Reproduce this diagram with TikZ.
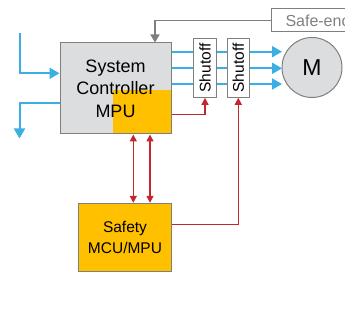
\documentclass[tikz,border=0pt]{standalone}
\usepackage{fontspec}
\setmainfont{Liberation Sans}
\usetikzlibrary{arrows.meta}
\definecolor{boxgray}{HTML}{DCDDDE}
\definecolor{orng}{HTML}{FFC000}
\definecolor{blu}{HTML}{3BAEE3}
\definecolor{rd}{HTML}{C1272D}
\definecolor{edge}{HTML}{7F7F7F}
\begin{document}
\begin{tikzpicture}[x=1pt,y=-1pt,
  bluline/.style={draw=blu,line width=2pt,-{Triangle[length=10pt,width=11pt]}},
  redline/.style={draw=rd,line width=1.5pt,-{Triangle[length=7pt,width=7pt]}},
  redboth/.style={draw=rd,line width=1.5pt,{Triangle[length=7pt,width=7pt]}-{Triangle[length=7pt,width=7pt]}},
  grayline/.style={draw=edge,line width=1.5pt,-{Triangle[length=8pt,width=9pt]}},
  shutbox/.style={draw=edge,line width=1pt,fill=white,minimum height=58.6pt,inner sep=0pt,
     font=\fontsize{15.5pt}{17pt}\selectfont},
]
\useasboundingbox (0,0) rectangle (345,320);
\clip (0,0) rectangle (345,320);
% coordinates
\coordinate (in1) at (19.5,32.7);
\coordinate (inY) at (0,73.3);
\coordinate (outY) at (0,103.3);
\coordinate (out1) at (19.5,138.5);
\coordinate (b1) at (0,51.7);
\coordinate (b2) at (0,68.3);
\coordinate (b3) at (0,84);
\coordinate (e1) at (282,51.7);
\coordinate (e2) at (282,68.3);
\coordinate (e3) at (282,84);
\coordinate (rY) at (0,114.3);
\coordinate (sY) at (0,224.3);
\coordinate (dA) at (133.3,0);
\coordinate (dB) at (150,0);
\coordinate (gX) at (155,0);
% system controller background
\fill[boxgray] (60,43) rectangle (171,134);
\fill[orng] (113,90) rectangle (171,134);
\node (sc) [draw=edge,line width=1pt,minimum width=111pt,minimum height=91pt,inner sep=0pt,
  align=center,font=\fontsize{18pt}{22.5pt}\selectfont] at (115.5,88.5)
  {System\\Controller\\MPU};
% safety
\node (saf) [draw=edge,line width=1pt,fill=orng,minimum width=93.4pt,minimum height=68.4pt,inner sep=0pt,
  align=center,font=\fontsize{15.5pt}{21.6pt}\selectfont] at (125,237.5)
  {Safety\\MCU/MPU};
% motor
\node (m) [circle,draw=edge,line width=1pt,fill=boxgray,minimum size=60pt,inner sep=0pt,
  font=\fontsize{23pt}{25pt}\selectfont] at (312,67.5) {M};
% safe-enc
\node (enc) [draw=edge,line width=1pt,anchor=west,minimum height=23pt,minimum width=90pt,
  inner sep=0pt,text=edge,font=\fontsize{16pt}{18pt}\selectfont,align=left,text width=80pt]
  at (271,20.3) {\hspace*{9pt}Safe-enc};
% blue lines
\draw[bluline] (sc.east |- b1) -- (e1);
\draw[bluline] (sc.east |- b2) -- (e2);
\draw[bluline] (sc.east |- b3) -- (e3);
% shutoffs
\node (s1) [shutbox,minimum width=23.3pt] at (205,68) {\rotatebox{90}{Shutoff}};
\node (s2) [shutbox,minimum width=22pt] at (238.3,68) {\rotatebox{90}{Shutoff}};
% input/output
\draw[bluline] (in1) |- (sc.west |- inY);
\draw[bluline] (sc.west |- outY) -| (out1);
% red
\draw[redline] (sc.east |- rY) -| (s1.south);
\draw[redline] (saf.east |- sY) -| (s2.south);
\draw[redboth] (sc.south -| dA) -- (saf.north -| dA);
\draw[redboth] (sc.south -| dB) -- (saf.north -| dB);
% gray
\draw[grayline] (enc.west) -| (sc.north -| gX);
\end{tikzpicture}
\end{document}
